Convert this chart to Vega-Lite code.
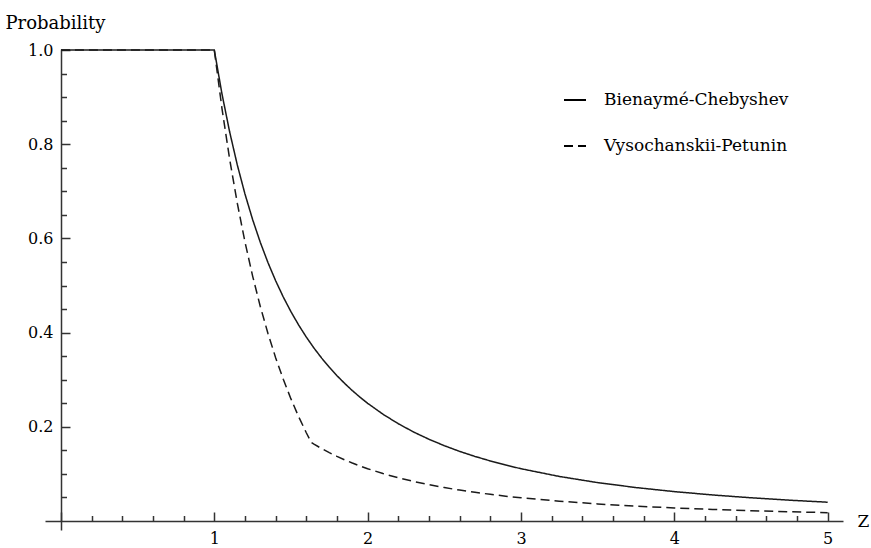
{
  "$schema": "https://vega.github.io/schema/vega-lite/v6.json",
  "width": 798,
  "height": 480,
  "autosize": {"type": "none"},
  "padding": {"left": 45, "top": 50, "right": 28, "bottom": 18},
  "background": "white",
  "data": {
    "values": [
      {"z": 0, "p": 1, "bound": "Bienaymé-Chebyshev"},
      {"z": 1.0, "p": 1, "bound": "Bienaymé-Chebyshev"},
      {"z": 1.05, "p": 0.907, "bound": "Bienaymé-Chebyshev"},
      {"z": 1.1, "p": 0.8264, "bound": "Bienaymé-Chebyshev"},
      {"z": 1.15, "p": 0.7561, "bound": "Bienaymé-Chebyshev"},
      {"z": 1.2, "p": 0.6944, "bound": "Bienaymé-Chebyshev"},
      {"z": 1.25, "p": 0.64, "bound": "Bienaymé-Chebyshev"},
      {"z": 1.3, "p": 0.5917, "bound": "Bienaymé-Chebyshev"},
      {"z": 1.35, "p": 0.5487, "bound": "Bienaymé-Chebyshev"},
      {"z": 1.4, "p": 0.5102, "bound": "Bienaymé-Chebyshev"},
      {"z": 1.45, "p": 0.4756, "bound": "Bienaymé-Chebyshev"},
      {"z": 1.5, "p": 0.4444, "bound": "Bienaymé-Chebyshev"},
      {"z": 1.55, "p": 0.4162, "bound": "Bienaymé-Chebyshev"},
      {"z": 1.6, "p": 0.3906, "bound": "Bienaymé-Chebyshev"},
      {"z": 1.65, "p": 0.3673, "bound": "Bienaymé-Chebyshev"},
      {"z": 1.7, "p": 0.346, "bound": "Bienaymé-Chebyshev"},
      {"z": 1.75, "p": 0.3265, "bound": "Bienaymé-Chebyshev"},
      {"z": 1.8, "p": 0.3086, "bound": "Bienaymé-Chebyshev"},
      {"z": 1.85, "p": 0.2922, "bound": "Bienaymé-Chebyshev"},
      {"z": 1.9, "p": 0.277, "bound": "Bienaymé-Chebyshev"},
      {"z": 1.95, "p": 0.263, "bound": "Bienaymé-Chebyshev"},
      {"z": 2.0, "p": 0.25, "bound": "Bienaymé-Chebyshev"},
      {"z": 2.1, "p": 0.2268, "bound": "Bienaymé-Chebyshev"},
      {"z": 2.2, "p": 0.2066, "bound": "Bienaymé-Chebyshev"},
      {"z": 2.3, "p": 0.189, "bound": "Bienaymé-Chebyshev"},
      {"z": 2.4, "p": 0.1736, "bound": "Bienaymé-Chebyshev"},
      {"z": 2.5, "p": 0.16, "bound": "Bienaymé-Chebyshev"},
      {"z": 2.6, "p": 0.1479, "bound": "Bienaymé-Chebyshev"},
      {"z": 2.7, "p": 0.1372, "bound": "Bienaymé-Chebyshev"},
      {"z": 2.8, "p": 0.1276, "bound": "Bienaymé-Chebyshev"},
      {"z": 2.9, "p": 0.1189, "bound": "Bienaymé-Chebyshev"},
      {"z": 3.0, "p": 0.1111, "bound": "Bienaymé-Chebyshev"},
      {"z": 3.25, "p": 0.0947, "bound": "Bienaymé-Chebyshev"},
      {"z": 3.5, "p": 0.0816, "bound": "Bienaymé-Chebyshev"},
      {"z": 3.75, "p": 0.0711, "bound": "Bienaymé-Chebyshev"},
      {"z": 4.0, "p": 0.0625, "bound": "Bienaymé-Chebyshev"},
      {"z": 4.25, "p": 0.0554, "bound": "Bienaymé-Chebyshev"},
      {"z": 4.5, "p": 0.0494, "bound": "Bienaymé-Chebyshev"},
      {"z": 4.75, "p": 0.0443, "bound": "Bienaymé-Chebyshev"},
      {"z": 5.0, "p": 0.04, "bound": "Bienaymé-Chebyshev"},
      {"z": 0, "p": 1, "bound": "Vysochanskii-Petunin"},
      {"z": 1.0, "p": 1, "bound": "Vysochanskii-Petunin"},
      {"z": 1.05, "p": 0.876, "bound": "Vysochanskii-Petunin"},
      {"z": 1.1, "p": 0.7686, "bound": "Vysochanskii-Petunin"},
      {"z": 1.15, "p": 0.6748, "bound": "Vysochanskii-Petunin"},
      {"z": 1.2, "p": 0.5926, "bound": "Vysochanskii-Petunin"},
      {"z": 1.25, "p": 0.52, "bound": "Vysochanskii-Petunin"},
      {"z": 1.3, "p": 0.4556, "bound": "Vysochanskii-Petunin"},
      {"z": 1.35, "p": 0.3983, "bound": "Vysochanskii-Petunin"},
      {"z": 1.4, "p": 0.3469, "bound": "Vysochanskii-Petunin"},
      {"z": 1.45, "p": 0.3008, "bound": "Vysochanskii-Petunin"},
      {"z": 1.5, "p": 0.2593, "bound": "Vysochanskii-Petunin"},
      {"z": 1.55, "p": 0.2216, "bound": "Vysochanskii-Petunin"},
      {"z": 1.6, "p": 0.1875, "bound": "Vysochanskii-Petunin"},
      {"z": 1.633, "p": 0.1667, "bound": "Vysochanskii-Petunin"},
      {"z": 1.65, "p": 0.1632, "bound": "Vysochanskii-Petunin"},
      {"z": 1.7, "p": 0.1538, "bound": "Vysochanskii-Petunin"},
      {"z": 1.75, "p": 0.1451, "bound": "Vysochanskii-Petunin"},
      {"z": 1.8, "p": 0.1372, "bound": "Vysochanskii-Petunin"},
      {"z": 1.85, "p": 0.1299, "bound": "Vysochanskii-Petunin"},
      {"z": 1.9, "p": 0.1231, "bound": "Vysochanskii-Petunin"},
      {"z": 1.95, "p": 0.1169, "bound": "Vysochanskii-Petunin"},
      {"z": 2.0, "p": 0.1111, "bound": "Vysochanskii-Petunin"},
      {"z": 2.1, "p": 0.1008, "bound": "Vysochanskii-Petunin"},
      {"z": 2.2, "p": 0.0918, "bound": "Vysochanskii-Petunin"},
      {"z": 2.3, "p": 0.084, "bound": "Vysochanskii-Petunin"},
      {"z": 2.4, "p": 0.0772, "bound": "Vysochanskii-Petunin"},
      {"z": 2.5, "p": 0.0711, "bound": "Vysochanskii-Petunin"},
      {"z": 2.6, "p": 0.0657, "bound": "Vysochanskii-Petunin"},
      {"z": 2.7, "p": 0.061, "bound": "Vysochanskii-Petunin"},
      {"z": 2.8, "p": 0.0567, "bound": "Vysochanskii-Petunin"},
      {"z": 2.9, "p": 0.0528, "bound": "Vysochanskii-Petunin"},
      {"z": 3.0, "p": 0.0494, "bound": "Vysochanskii-Petunin"},
      {"z": 3.25, "p": 0.0421, "bound": "Vysochanskii-Petunin"},
      {"z": 3.5, "p": 0.0363, "bound": "Vysochanskii-Petunin"},
      {"z": 3.75, "p": 0.0316, "bound": "Vysochanskii-Petunin"},
      {"z": 4.0, "p": 0.0278, "bound": "Vysochanskii-Petunin"},
      {"z": 4.25, "p": 0.0246, "bound": "Vysochanskii-Petunin"},
      {"z": 4.5, "p": 0.0219, "bound": "Vysochanskii-Petunin"},
      {"z": 4.75, "p": 0.0197, "bound": "Vysochanskii-Petunin"},
      {"z": 5.0, "p": 0.0178, "bound": "Vysochanskii-Petunin"}
    ]
  },
  "layer": [
    {
      "mark": {"type": "line", "color": "#1a1a1a", "strokeWidth": 1.5},
      "encoding": {
        "x": {
          "field": "z", "type": "quantitative",
          "scale": {"domain": [-0.104, 5.1], "nice": false, "zero": false},
          "axis": {
            "orient": "bottom", "offset": -9, "values": [0, 1, 2, 3, 4, 5],
            "labelExpr": "datum.value == 0 ? '' : datum.label",
            "format": "d", "tickSize": -9, "labelPadding": 18,
            "title": "Z", "titleAngle": 0, "titleX": 812, "titleY": 0,
            "titleAlign": "left", "titleBaseline": "middle"
          }
        },
        "y": {
          "field": "p", "type": "quantitative",
          "scale": {"domain": [-0.019, 1], "nice": false, "zero": false},
          "axis": {
            "orient": "left", "offset": -16, "values": [0.2, 0.4, 0.6, 0.8, 1.0],
            "format": ".1f", "tickSize": -9, "labelPadding": 17,
            "title": "Probability", "titleAngle": 0, "titleX": -6, "titleY": -22,
            "titleAlign": "center", "titleBaseline": "alphabetic", "titleFontSize": 18
          }
        },
        "strokeDash": {
          "field": "bound", "type": "nominal",
          "scale": {"domain": ["Bienaymé-Chebyshev", "Vysochanskii-Petunin"], "range": [[1, 0], [9, 5]]},
          "legend": {
            "orient": "none", "legendX": 518, "legendY": 38, "title": null,
            "symbolType": "stroke", "symbolSize": 484, "symbolStrokeWidth": 2,
            "symbolStrokeColor": "black", "labelFont": "DejaVu Serif",
            "labelFontSize": 17, "labelColor": "black", "labelOffset": 17,
            "labelLimit": 400, "rowPadding": 26, "padding": 0
          }
        }
      }
    },
    {
      "mark": {"type": "point", "opacity": 0},
      "encoding": {
        "x": {
          "field": "z", "type": "quantitative",
          "axis": {
            "orient": "bottom", "offset": -9,
            "values": [0.2, 0.4, 0.6, 0.8, 1.2, 1.4, 1.6, 1.8, 2.2, 2.4, 2.6, 2.8, 3.2, 3.4, 3.6, 3.8, 4.2, 4.4, 4.6, 4.8],
            "labels": false, "domain": false, "tickSize": -5.5, "title": null
          }
        },
        "y": {
          "field": "p", "type": "quantitative",
          "axis": {
            "orient": "left", "offset": -16,
            "values": [0.05, 0.1, 0.15, 0.25, 0.3, 0.35, 0.45, 0.5, 0.55, 0.65, 0.7, 0.75, 0.85, 0.9, 0.95],
            "labels": false, "domain": false, "tickSize": -5.5, "title": null
          }
        }
      }
    }
  ],
  "resolve": {"axis": {"x": "independent", "y": "independent"}},
  "config": {
    "view": {"stroke": null},
    "axis": {
      "grid": false, "domainColor": "#333", "tickColor": "#333",
      "domainWidth": 1.5, "tickWidth": 1.5,
      "labelFont": "DejaVu Serif", "labelFontSize": 16, "labelColor": "black",
      "titleFont": "DejaVu Serif", "titleFontSize": 17, "titleFontWeight": "normal",
      "titleColor": "black"
    }
  }
}
